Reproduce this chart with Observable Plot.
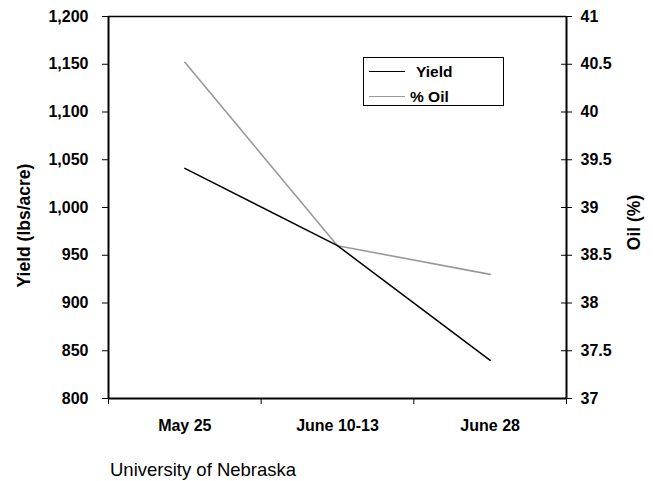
<!DOCTYPE html>
<html><head><meta charset="utf-8">
<script src="https://cdn.jsdelivr.net/npm/d3@7"></script>
<script src="https://cdn.jsdelivr.net/npm/@observablehq/plot@0.6"></script>
<style>
body{margin:0;background:#fff;font-family:"Liberation Sans",Arial,sans-serif;}
#wrap{position:relative;width:653px;height:481px;overflow:hidden;}
#legend{position:absolute;left:363px;top:57px;width:141px;height:49px;box-sizing:border-box;border:1.5px solid #000;background:#fff;}
.lg-line{position:absolute;left:5px;width:36px;height:0;border-top:1.5px solid #000;}
.lg-text{position:absolute;font-weight:bold;font-size:15.5px;line-height:16px;color:#000;}
#caption{position:absolute;left:110px;top:461px;font-size:18.5px;line-height:18px;color:#000;white-space:nowrap;}
</style></head><body>
<div id="wrap"></div>
<script>
const categories = ["May 25", "June 10-13", "June 28"];
const yieldValues = [1041, 960, 840];
const oilValues = [40.52, 38.6, 38.3];
const yieldTicks = [800, 850, 900, 950, 1000, 1050, 1100, 1150, 1200];
const oilTicks = [37, 37.5, 38, 38.5, 39, 39.5, 40, 40.5, 41];
const seriesNames = ["Yield", "% Oil"];
const captionText = "University of Nebraska";

// map oil (%) onto the yield scale (37..41 -> 800..1200)
const oilToYield = v => 800 + (v - 37) * 100;

const data = categories.map((c, i) => ({pos: i + 0.5, cat: c, yield: yieldValues[i], oil: oilToYield(oilValues[i])}));
const oilTickPos = oilTicks.map(oilToYield);

const bold = {fontWeight: "bold", fontSize: 16};

const chart = Plot.plot({
  width: 653,
  height: 455,
  marginLeft: 108,
  marginRight: 87,
  marginTop: 16,
  marginBottom: 57,
  style: {fontFamily: "'Liberation Sans', Arial, sans-serif", fontSize: "16px", color: "#000", background: "#fff"},
  x: {type: "linear", domain: [0, 3]},
  y: {domain: [800, 1200]},
  marks: [
    Plot.axisY({anchor: "left", ticks: yieldTicks, tickSize: 6, tickPadding: 14, tickFormat: d3.format(","), label: null, ...bold}),
    Plot.axisY({anchor: "right", ticks: oilTickPos, tickSize: 5, tickPadding: 9, tickFormat: d => String(oilTicks[oilTickPos.indexOf(d)]), label: null, ...bold}),
    Plot.ruleY(oilTickPos, {x1: 3, x2: 3, insetLeft: -5, insetRight: 0, stroke: "#000"}),
    Plot.axisX({ticks: [0, 1, 2, 3], tickSize: 6, tickFormat: () => "", label: null}),
    Plot.axisX({ticks: data.map(d => d.pos), tickSize: 0, tickPadding: 21, tickFormat: d => categories[Math.floor(d)], label: null, ...bold}),
    Plot.ruleY([1200], {stroke: "#000", strokeWidth: 1.3}),
    Plot.ruleY([800], {stroke: "#000", strokeWidth: 2}),
    Plot.ruleX([0], {stroke: "#000", strokeWidth: 2}),
    Plot.ruleX([3], {stroke: "#000", strokeWidth: 2}),
    Plot.line(data, {x: "pos", y: "oil", stroke: "#999", strokeWidth: 1.6}),
    Plot.line(data, {x: "pos", y: "yield", stroke: "#000", strokeWidth: 1.5}),
    Plot.text(["Yield (lbs/acre)"], {frameAnchor: "left", textAnchor: "middle", text: d => d, rotate: -90, dx: -84, dy: 18, fontWeight: "bold", fontSize: 17.5}),
    Plot.text(["Oil (%)"], {frameAnchor: "right", textAnchor: "middle", text: d => d, rotate: -90, dx: 68, dy: 15, fontWeight: "bold", fontSize: 17.5})
  ]
});

const wrap = document.getElementById("wrap");
wrap.appendChild(chart);

const legend = document.createElement("div");
legend.id = "legend";
const lgColors = ["#000", "#999"];
const lgTextLeft = [52, 46];
const lgTops = [14, 39];
seriesNames.forEach((name, i) => {
  const ln = document.createElement("div");
  ln.className = "lg-line";
  ln.style.top = (lgTops[i] - 1) + "px";
  ln.style.borderTopColor = lgColors[i];
  legend.appendChild(ln);
  const tx = document.createElement("div");
  tx.className = "lg-text";
  tx.style.left = lgTextLeft[i] + "px";
  tx.style.top = (lgTops[i] - 8) + "px";
  tx.textContent = name;
  legend.appendChild(tx);
});
wrap.appendChild(legend);

const cap = document.createElement("div");
cap.id = "caption";
cap.textContent = captionText;
wrap.appendChild(cap);
</script>
</body></html>
